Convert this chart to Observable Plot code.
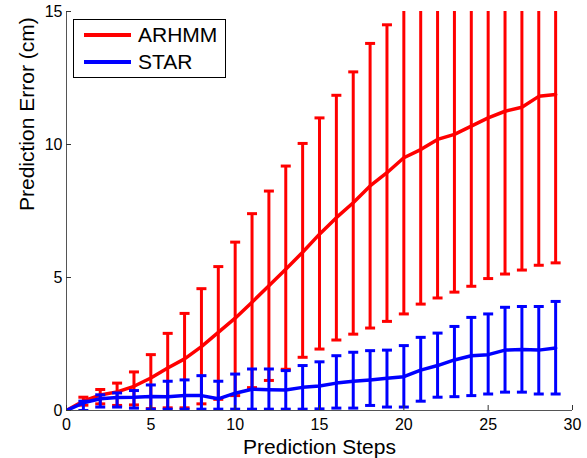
<!DOCTYPE html>
<html><head><meta charset="utf-8">
<script src="https://cdn.jsdelivr.net/npm/d3@7"></script>
<script src="https://cdn.jsdelivr.net/npm/@observablehq/plot@0.6"></script>
<style>
body{margin:0;background:#fff;font-family:"Liberation Sans",Arial,sans-serif;}
#wrap{position:relative;width:587px;height:458px;}
#legend{position:absolute;left:73px;top:19px;width:153px;height:59px;border:1px solid #000;background:#fff;box-sizing:border-box;}
#legend .sw{position:absolute;left:10px;width:47px;height:3.5px;}
#legend .lab{position:absolute;left:64px;font-size:21px;color:#000;white-space:nowrap;line-height:24px;}
</style></head><body>
<div id="wrap"><div id="legend"></div></div>
<script>
const series = ["ARHMM", "STAR"];
const colors = ["#ff0000", "#0000ff"];
const steps = [0,1,2,3,4,5,6,7,8,9,10,11,12,13,14,15,16,17,18,19,20,21,22,23,24,25,26,27,28,29];
const arhmmMean  = [0,0.36,0.58,0.70,0.91,1.22,1.60,1.94,2.40,2.94,3.47,4.07,4.69,5.31,5.95,6.63,7.25,7.81,8.44,8.94,9.50,9.81,10.19,10.38,10.69,11.00,11.25,11.40,11.81,11.88];
const arhmmLower = [0,0.20,0.25,0.19,0.21,0.07,0.10,0.10,0.25,0.42,0.56,0.86,1.13,1.55,2.00,2.31,2.65,2.87,3.10,3.35,3.63,4.00,4.23,4.45,4.67,4.96,5.13,5.28,5.46,5.55];
const arhmmUpper = [0,0.50,0.79,1.03,1.45,2.10,2.90,3.65,4.58,5.41,6.33,7.40,8.25,9.19,10.04,11.00,11.85,12.73,13.80,14.50,15.4,15.6,16.2,16.3,16.7,17.0,17.4,17.5,18.2,18.2];
const starMean  = [0,0.29,0.44,0.49,0.50,0.53,0.52,0.56,0.56,0.44,0.65,0.80,0.78,0.77,0.87,0.92,1.03,1.10,1.15,1.21,1.27,1.52,1.69,1.90,2.06,2.10,2.27,2.29,2.27,2.35];
const starLower = [0,0.00,0.13,0.13,0.09,0.05,0.05,0.05,0.05,0.05,0.05,0.05,0.05,0.05,0.05,0.06,0.09,0.09,0.19,0.13,0.13,0.35,0.50,0.52,0.56,0.62,0.69,0.69,0.62,0.62];
const starUpper = [0,0.35,0.59,0.66,0.75,0.96,1.10,1.15,1.31,1.10,1.37,1.56,1.56,1.50,1.69,1.83,2.06,2.19,2.25,2.27,2.44,2.75,2.91,3.16,3.50,3.63,3.88,3.91,3.91,4.10];
const xTicks = [0,5,10,15,20,25,30];
const yTicks = [0,5,10,15];

const tables = [
  {name: series[0], color: colors[0], mean: arhmmMean, lo: arhmmLower, hi: arhmmUpper},
  {name: series[1], color: colors[1], mean: starMean, lo: starLower, hi: starUpper}
];

const capSymbol = {draw(ctx, size){ const w = Math.sqrt(size / Math.PI); ctx.moveTo(-w, 0); ctx.lineTo(w, 0); }};

const marks = [];
for (const t of tables) {
  const rows = steps.map((s, i) => ({step: s, mean: t.mean[i], lo: t.lo[i], hi: t.hi[i]}));
  const err = rows.filter(d => d.step > 0);
  marks.push(Plot.ruleX(err, {x: "step", y1: "lo", y2: "hi", stroke: t.color, strokeWidth: 3, clip: true}));
  marks.push(Plot.dot(err, {x: "step", y: "lo", symbol: capSymbol, r: 5, stroke: t.color, strokeWidth: 3, fill: "none", clip: true}));
  marks.push(Plot.dot(err, {x: "step", y: "hi", symbol: capSymbol, r: 5, stroke: t.color, strokeWidth: 3, fill: "none", clip: true}));
  marks.push(Plot.line(rows, {x: "step", y: "mean", stroke: t.color, strokeWidth: 3.5, clip: true}));
}

const chart = Plot.plot({
  width: 587, height: 458,
  marginLeft: 66, marginRight: 15, marginTop: 11, marginBottom: 48,
  style: {fontFamily: "Liberation Sans, Arial, sans-serif", background: "#fff", color: "#000"},
  x: {domain: [0, 30]},
  y: {domain: [0, 15]},
  marks: [
    Plot.ruleY([0], {stroke: "#555", strokeWidth: 1}),
    Plot.ruleX([0], {stroke: "#555", strokeWidth: 1}),
    ...marks,
    Plot.axisX({ticks: xTicks, tickSize: -5, tickPadding: 13, fontSize: 16, label: null, stroke: "#333"}),
    Plot.axisY({ticks: yTicks, tickSize: -5, tickPadding: 9, fontSize: 16, label: null, stroke: "#333"}),
    Plot.text(["Prediction Steps"], {frameAnchor: "bottom", lineAnchor: "middle", dy: 37, fontSize: 21, fill: "#000"}),
    Plot.text(["Prediction Error (cm)"], {frameAnchor: "left", rotate: -90, dx: -39, fontSize: 21, fill: "#000"})
  ]
});
document.getElementById("wrap").prepend(chart);

const legend = document.getElementById("legend");
tables.forEach((t, i) => {
  const cy = i === 0 ? 15 : 42;
  const sw = document.createElement("div");
  sw.className = "sw"; sw.style.background = t.color; sw.style.top = (cy - 1.75) + "px";
  const lab = document.createElement("div");
  lab.className = "lab"; lab.textContent = t.name; lab.style.top = (cy - 12) + "px";
  legend.appendChild(sw); legend.appendChild(lab);
});
</script>
</body></html>
